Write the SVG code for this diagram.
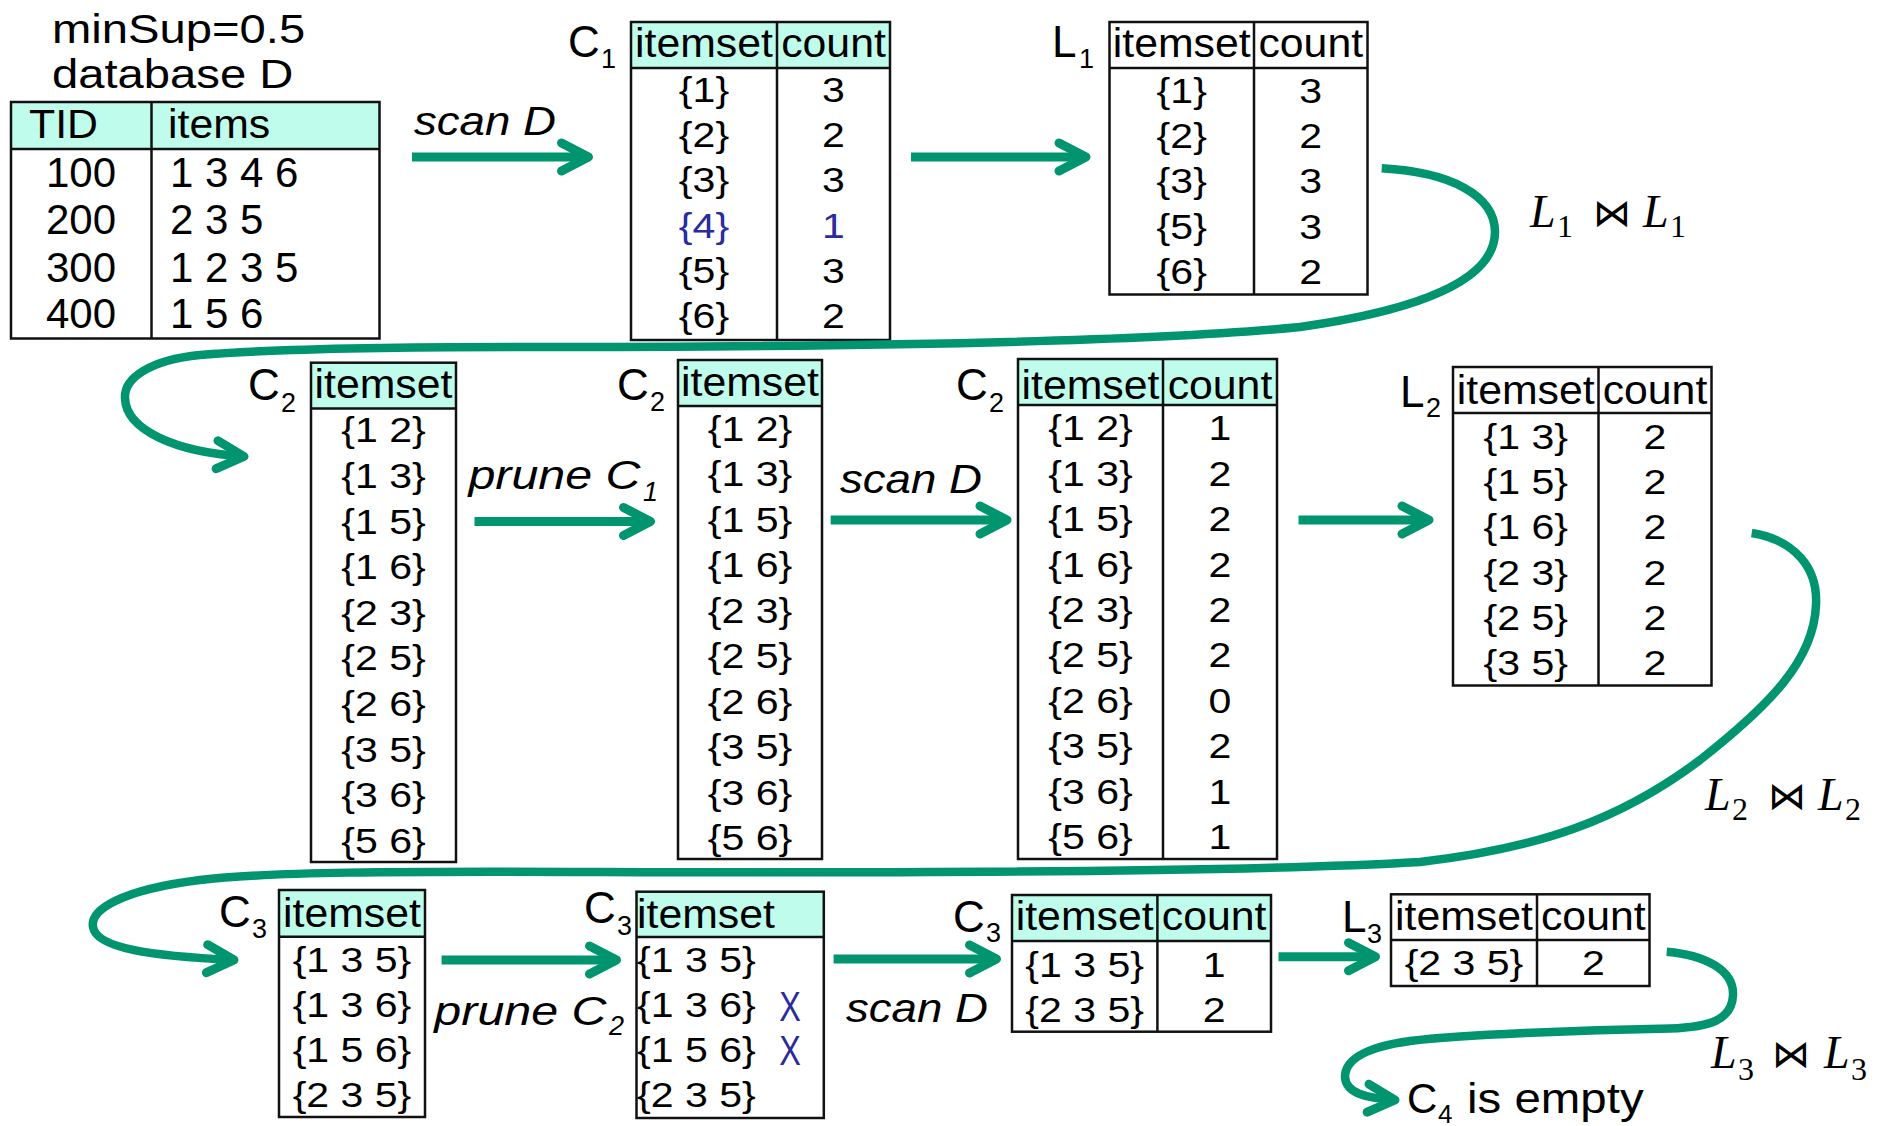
<svg xmlns="http://www.w3.org/2000/svg" width="1889" height="1126" viewBox="0 0 1889 1126">
  <style>
    text { font-family: "Liberation Sans", Arial, sans-serif; fill: #000; }
    .c { text-anchor: middle; transform-box: fill-box; transform-origin: center; }
    .l { text-anchor: start; transform-box: fill-box; transform-origin: left center; }
    .body { font-size: 36px; transform: scaleX(1.14); }
    .big { font-size: 42px; }
    .head { font-size: 40px; transform: scaleX(1.07); }
    .title { font-size: 40px; transform: scaleX(1.18); }
    .lab { font-size: 44px; }
    .sub { font-size: 27px; }
    .it { font-style: italic; font-size: 40px; transform: scaleX(1.14); }
    .it2 { font-style: italic; font-size: 40px; transform: scaleX(1.21); }
    .itsub { font-style: italic; font-size: 27px; }
    .empty { font-size: 42px; transform: scaleX(1.13); }
    .math { font-family: "Liberation Serif", "DejaVu Serif", serif; font-style: italic; font-size: 46px; }
    .msub { font-family: "Liberation Serif", "DejaVu Serif", serif; font-size: 32px; }
    .join { font-family: "DejaVu Sans", sans-serif; font-size: 38px; text-anchor: middle; }
    .blue { fill: #2b2b9c; }
    .cross { font-size: 36px; fill: #2b2b9c; transform: scale(0.9, 1.2); }
    .hdr { fill: #bffcec; stroke: none; }
    .tbl { fill: none; stroke: #111; stroke-width: 2.5; }
    .arrow { fill: none; stroke: #00956f; stroke-width: 9; marker-end: url(#chev); }
    .curve { fill: none; stroke: #00956f; stroke-width: 8.5; marker-end: url(#chev); }
  </style>
  <defs>
    <marker id="chev" markerUnits="userSpaceOnUse" viewBox="-40 -24 48 48" refX="0" refY="0" markerWidth="48" markerHeight="48" orient="auto" overflow="visible">
      <path d="M-27,-14 L0,0 L-27,14" fill="none" stroke="#00956f" stroke-width="9" stroke-linecap="round" stroke-linejoin="round"/>
    </marker>
  </defs>

  <rect width="1889" height="1126" fill="#fff"/>

  <!-- database D -->
  <g id="database">
    <text class="l title" x="52" y="43">minSup=0.5</text>
    <text class="l title" x="52" y="88">database D</text>
    <rect class="hdr" x="11" y="102" width="368.5" height="47"/>
    <rect class="tbl" x="11" y="102" width="368.5" height="236.5"/>
    <line class="tbl" x1="11" y1="149" x2="379.5" y2="149"/>
    <line class="tbl" x1="151.5" y1="102" x2="151.5" y2="338.5"/>
    <text class="l head" x="29" y="138">TID</text>
    <text class="l head" x="168" y="138">items</text>
    <text class="c big" x="81" y="187">100</text>
    <text class="c big" x="81" y="233.5">200</text>
    <text class="c big" x="81" y="281.5">300</text>
    <text class="c big" x="81" y="328.3">400</text>
    <text class="l big" x="170" y="187">1 3 4 6</text>
    <text class="l big" x="170" y="233.5">2 3 5</text>
    <text class="l big" x="170" y="281.5">1 2 3 5</text>
    <text class="l big" x="170" y="328.3">1 5 6</text>
  </g>

  <!-- C1 -->
  <g id="C1">
    <text class="lab" x="568" y="57">C</text>
    <text class="sub" x="601" y="68">1</text>
    <rect class="hdr" x="631" y="22" width="259" height="46"/>
    <rect class="tbl" x="631" y="22" width="259" height="318"/>
    <line class="tbl" x1="631" y1="68" x2="890" y2="68"/>
    <line class="tbl" x1="777" y1="22" x2="777" y2="340"/>
    <text class="c head" x="704" y="57">itemset</text>
    <text class="c head" x="833.5" y="57">count</text>
    <text class="c body" x="704" y="102">{1}</text>
    <text class="c body" x="704" y="147.2">{2}</text>
    <text class="c body" x="704" y="192.4">{3}</text>
    <text class="c body blue" x="704" y="237.6">{4}</text>
    <text class="c body" x="704" y="282.8">{5}</text>
    <text class="c body" x="704" y="328">{6}</text>
    <text class="c body" x="833.5" y="102">3</text>
    <text class="c body" x="833.5" y="147.2">2</text>
    <text class="c body" x="833.5" y="192.4">3</text>
    <text class="c body blue" x="833.5" y="237.6">1</text>
    <text class="c body" x="833.5" y="282.8">3</text>
    <text class="c body" x="833.5" y="328">2</text>
  </g>

  <!-- L1 -->
  <g id="L1">
    <text class="lab" x="1052" y="57">L</text>
    <text class="sub" x="1079" y="68">1</text>
    <rect class="tbl" x="1109.5" y="22" width="258" height="272.5"/>
    <line class="tbl" x1="1109.5" y1="68" x2="1367.5" y2="68"/>
    <line class="tbl" x1="1254" y1="22" x2="1254" y2="294.5"/>
    <text class="c head" x="1181.75" y="57">itemset</text>
    <text class="c head" x="1310.75" y="57">count</text>
    <text class="c body" x="1181.75" y="103">{1}</text>
    <text class="c body" x="1181.75" y="148.2">{2}</text>
    <text class="c body" x="1181.75" y="193.4">{3}</text>
    <text class="c body" x="1181.75" y="238.6">{5}</text>
    <text class="c body" x="1181.75" y="283.8">{6}</text>
    <text class="c body" x="1310.75" y="103">3</text>
    <text class="c body" x="1310.75" y="148.2">2</text>
    <text class="c body" x="1310.75" y="193.4">3</text>
    <text class="c body" x="1310.75" y="238.6">3</text>
    <text class="c body" x="1310.75" y="283.8">2</text>
  </g>

  <!-- C2 from the join -->
  <g id="C2-join">
    <text class="lab" x="248" y="400">C</text>
    <text class="sub" x="281" y="411.5">2</text>
    <rect class="hdr" x="311" y="362.7" width="145" height="45.8"/>
    <rect class="tbl" x="311" y="362.7" width="145" height="499.3"/>
    <line class="tbl" x1="311" y1="408.5" x2="456" y2="408.5"/>
    <text class="c head" x="383.5" y="398.3">itemset</text>
    <text class="c body" x="383.5" y="442.5">{1 2}</text>
    <text class="c body" x="383.5" y="488.1">{1 3}</text>
    <text class="c body" x="383.5" y="533.7">{1 5}</text>
    <text class="c body" x="383.5" y="579.3">{1 6}</text>
    <text class="c body" x="383.5" y="624.9">{2 3}</text>
    <text class="c body" x="383.5" y="670.5">{2 5}</text>
    <text class="c body" x="383.5" y="716.1">{2 6}</text>
    <text class="c body" x="383.5" y="761.7">{3 5}</text>
    <text class="c body" x="383.5" y="807.3">{3 6}</text>
    <text class="c body" x="383.5" y="852.9">{5 6}</text>
  </g>

  <!-- C2 after pruning -->
  <g id="C2-pruned">
    <text class="lab" x="617" y="400">C</text>
    <text class="sub" x="650" y="411">2</text>
    <rect class="hdr" x="678" y="360" width="144" height="46"/>
    <rect class="tbl" x="678" y="360" width="144" height="499"/>
    <line class="tbl" x1="678" y1="406" x2="822" y2="406"/>
    <text class="c head" x="750" y="396">itemset</text>
    <text class="c body" x="750" y="441">{1 2}</text>
    <text class="c body" x="750" y="486.5">{1 3}</text>
    <text class="c body" x="750" y="532">{1 5}</text>
    <text class="c body" x="750" y="577.5">{1 6}</text>
    <text class="c body" x="750" y="623">{2 3}</text>
    <text class="c body" x="750" y="668.5">{2 5}</text>
    <text class="c body" x="750" y="714">{2 6}</text>
    <text class="c body" x="750" y="759.5">{3 5}</text>
    <text class="c body" x="750" y="805">{3 6}</text>
    <text class="c body" x="750" y="850.5">{5 6}</text>
  </g>

  <!-- C2 with counts -->
  <g id="C2-counted">
    <text class="lab" x="956" y="399.5">C</text>
    <text class="sub" x="989" y="411.5">2</text>
    <rect class="hdr" x="1018" y="359" width="259" height="46"/>
    <rect class="tbl" x="1018" y="359" width="259" height="500"/>
    <line class="tbl" x1="1018" y1="405" x2="1277" y2="405"/>
    <line class="tbl" x1="1163" y1="359" x2="1163" y2="859"/>
    <text class="c head" x="1090.5" y="399">itemset</text>
    <text class="c head" x="1220" y="399">count</text>
    <text class="c body" x="1090.5" y="440.5">{1 2}</text>
    <text class="c body" x="1090.5" y="485.9">{1 3}</text>
    <text class="c body" x="1090.5" y="531.3">{1 5}</text>
    <text class="c body" x="1090.5" y="576.7">{1 6}</text>
    <text class="c body" x="1090.5" y="622.1">{2 3}</text>
    <text class="c body" x="1090.5" y="667.5">{2 5}</text>
    <text class="c body" x="1090.5" y="712.9">{2 6}</text>
    <text class="c body" x="1090.5" y="758.3">{3 5}</text>
    <text class="c body" x="1090.5" y="803.7">{3 6}</text>
    <text class="c body" x="1090.5" y="849.1">{5 6}</text>
    <text class="c body" x="1220" y="440.5">1</text>
    <text class="c body" x="1220" y="485.9">2</text>
    <text class="c body" x="1220" y="531.3">2</text>
    <text class="c body" x="1220" y="576.7">2</text>
    <text class="c body" x="1220" y="622.1">2</text>
    <text class="c body" x="1220" y="667.5">2</text>
    <text class="c body" x="1220" y="712.9">0</text>
    <text class="c body" x="1220" y="758.3">2</text>
    <text class="c body" x="1220" y="803.7">1</text>
    <text class="c body" x="1220" y="849.1">1</text>
  </g>

  <!-- L2 -->
  <g id="L2">
    <text class="lab" x="1400" y="407">L</text>
    <text class="sub" x="1426" y="417">2</text>
    <rect class="tbl" x="1453" y="367" width="258.5" height="318.5"/>
    <line class="tbl" x1="1453" y1="413" x2="1711.5" y2="413"/>
    <line class="tbl" x1="1598.5" y1="367" x2="1598.5" y2="685.5"/>
    <text class="c head" x="1525.75" y="403.6">itemset</text>
    <text class="c head" x="1655" y="403.6">count</text>
    <text class="c body" x="1525.75" y="449">{1 3}</text>
    <text class="c body" x="1525.75" y="494.2">{1 5}</text>
    <text class="c body" x="1525.75" y="539.4">{1 6}</text>
    <text class="c body" x="1525.75" y="584.6">{2 3}</text>
    <text class="c body" x="1525.75" y="629.8">{2 5}</text>
    <text class="c body" x="1525.75" y="675">{3 5}</text>
    <text class="c body" x="1655" y="449">2</text>
    <text class="c body" x="1655" y="494.2">2</text>
    <text class="c body" x="1655" y="539.4">2</text>
    <text class="c body" x="1655" y="584.6">2</text>
    <text class="c body" x="1655" y="629.8">2</text>
    <text class="c body" x="1655" y="675">2</text>
  </g>

  <!-- C3 from the join -->
  <g id="C3-join">
    <text class="lab" x="219" y="927">C</text>
    <text class="sub" x="252" y="938">3</text>
    <rect class="hdr" x="279" y="890" width="146" height="46.7"/>
    <rect class="tbl" x="279" y="890" width="146" height="227"/>
    <line class="tbl" x1="279" y1="936.7" x2="425" y2="936.7"/>
    <text class="c head" x="352" y="926.7">itemset</text>
    <text class="c body" x="352" y="971.7">{1 3 5}</text>
    <text class="c body" x="352" y="1016.7">{1 3 6}</text>
    <text class="c body" x="352" y="1061.7">{1 5 6}</text>
    <text class="c body" x="352" y="1106.7">{2 3 5}</text>
  </g>

  <!-- C3 after pruning -->
  <g id="C3-pruned">
    <text class="lab" x="584" y="923">C</text>
    <text class="sub" x="617" y="935">3</text>
    <rect class="hdr" x="636.5" y="891.7" width="187.3" height="45.3"/>
    <rect class="tbl" x="636.5" y="891.7" width="187.3" height="226.3"/>
    <line class="tbl" x1="636.5" y1="937" x2="823.8" y2="937"/>
    <text class="l head" x="637" y="928">itemset</text>
    <text class="l body" x="637" y="971.7">{1 3 5}</text>
    <text class="l body" x="637" y="1016.7">{1 3 6}</text>
    <text class="l body" x="637" y="1061.7">{1 5 6}</text>
    <text class="l body" x="637" y="1106.7">{2 3 5}</text>
    <text class="c cross" x="790" y="1018">X</text>
    <text class="c cross" x="790" y="1062">X</text>
  </g>

  <!-- C3 with counts -->
  <g id="C3-counted">
    <text class="lab" x="953" y="932">C</text>
    <text class="sub" x="986" y="942">3</text>
    <rect class="hdr" x="1012" y="895" width="259" height="46"/>
    <rect class="tbl" x="1012" y="895" width="259" height="136.7"/>
    <line class="tbl" x1="1012" y1="941" x2="1271" y2="941"/>
    <line class="tbl" x1="1157.4" y1="895" x2="1157.4" y2="1031.7"/>
    <text class="c head" x="1084.7" y="930">itemset</text>
    <text class="c head" x="1214.2" y="930">count</text>
    <text class="c body" x="1084.7" y="976.7">{1 3 5}</text>
    <text class="c body" x="1084.7" y="1021.7">{2 3 5}</text>
    <text class="c body" x="1214.2" y="976.7">1</text>
    <text class="c body" x="1214.2" y="1021.7">2</text>
  </g>

  <!-- L3 -->
  <g id="L3">
    <text class="lab" x="1342" y="932">L</text>
    <text class="sub" x="1367" y="943">3</text>
    <rect class="tbl" x="1391" y="894.3" width="258.5" height="91.7"/>
    <line class="tbl" x1="1391" y1="940" x2="1649.5" y2="940"/>
    <line class="tbl" x1="1537" y1="894.3" x2="1537" y2="986"/>
    <text class="c head" x="1464" y="930">itemset</text>
    <text class="c head" x="1593.3" y="930">count</text>
    <text class="c body" x="1464" y="975">{2 3 5}</text>
    <text class="c body" x="1593.3" y="975">2</text>
  </g>

  <!-- C4 -->
  <g id="C4">
    <text class="lab" x="1407" y="1113" style="font-size:42px">C</text>
    <text class="sub" x="1438" y="1123" style="font-size:26px">4</text>
    <text class="l empty" x="1467" y="1113">is empty</text>
  </g>

  <!-- connectors -->
  <g id="connectors">
    <path class="arrow" d="M412,157 H588.5"/>
    <path class="arrow" d="M911,157 H1086"/>
    <path class="arrow" d="M474.5,521.5 H650.5"/>
    <path class="arrow" d="M830.7,520 H1007"/>
    <path class="arrow" d="M1298.5,520 H1429"/>
    <path class="arrow" d="M441.6,960 H616.5"/>
    <path class="arrow" d="M833.6,959 H996.5"/>
    <path class="arrow" d="M1278.5,956.7 H1375.5"/>
    <!-- L1 join L1 -> C2 -->
    <path class="curve" d="M1381.7,168.3 C1450,172 1495,195 1495,232 C1495,280 1420,310 1300,327 C1150,342 850,347 520,347 C380,347 260,350 200,355 C150,360 124,378 125,398 C126,430 175,452 244,456.5"/>
    <!-- L2 join L2 -> C3 -->
    <path class="curve" d="M1751.7,533 C1795,540 1818,568 1816,605 C1814,660 1770,705 1700,760 C1620,820 1540,848 1420,862 C1250,872 900,873 600,872 C400,871 264,872 200,880 C120,890 90,910 93,927 C96,948 150,956 234,960"/>
    <!-- L3 join L3 -> C4 -->
    <path class="curve" d="M1666.7,951.7 C1705,955 1734,970 1733,995 C1732,1020 1710,1027 1670,1028.5 C1580,1030 1460,1035 1410,1041 C1360,1048 1345,1062 1345,1077 C1346,1093 1365,1098 1395,1100"/>
  </g>

  <!-- connector labels -->
  <g id="edge-labels">
    <text class="l it" x="414" y="135">scan D</text>
    <text class="l it" x="840" y="493">scan D</text>
    <text class="l it" x="846" y="1021.7">scan D</text>
    <text class="l it2" x="468" y="489">prune C</text>
    <text class="itsub" x="643" y="500.5">1</text>
    <text class="l it2" x="434" y="1025">prune C</text>
    <text class="itsub" x="609" y="1035">2</text>

    <text class="math" x="1530" y="227">L</text>
    <text class="msub" x="1557" y="237">1</text>
    <text class="join" x="1612" y="226">⋈</text>
    <text class="math" x="1643" y="227">L</text>
    <text class="msub" x="1670" y="237">1</text>

    <text class="math" x="1705" y="810">L</text>
    <text class="msub" x="1732" y="820">2</text>
    <text class="join" x="1787" y="809">⋈</text>
    <text class="math" x="1818" y="810">L</text>
    <text class="msub" x="1845" y="820">2</text>

    <text class="math" x="1711" y="1068">L</text>
    <text class="msub" x="1738" y="1080">3</text>
    <text class="join" x="1791" y="1067">⋈</text>
    <text class="math" x="1824" y="1068">L</text>
    <text class="msub" x="1851" y="1080">3</text>
  </g>
</svg>
